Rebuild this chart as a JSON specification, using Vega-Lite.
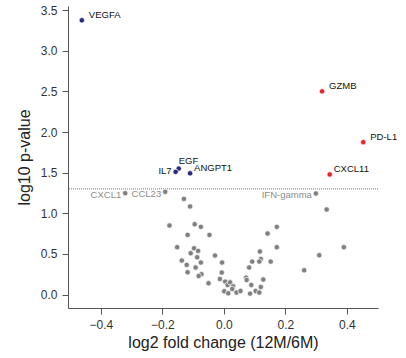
{
  "$schema": "https://vega.github.io/schema/vega-lite/v6.json",
  "autosize": {"type": "none"},
  "width": 310,
  "height": 302,
  "padding": {"left": 68, "top": 6, "right": 28, "bottom": 50},
  "background": "white",
  "config": {
    "view": {"stroke": null},
    "font": "Liberation Sans",
    "axis": {
      "grid": false,
      "domainColor": "#555555",
      "tickColor": "#555555",
      "tickSize": 6,
      "labelPadding": 5,
      "labelColor": "#333333",
      "labelFont": "Liberation Sans",
      "labelFontSize": 12,
      "titleFont": "Liberation Sans",
      "titleFontSize": 16,
      "titleFontWeight": "normal",
      "titleColor": "#222222"
    }
  },
  "datasets": {
    "genes": [
      {"gene": "VEGFA", "lfc": -0.462, "logp": 3.374, "group": "down"},
      {"gene": "GZMB", "lfc": 0.319, "logp": 2.5, "group": "up"},
      {"gene": "PD-L1", "lfc": 0.453, "logp": 1.875, "group": "up"},
      {"gene": "CXCL11", "lfc": 0.344, "logp": 1.478, "group": "up"},
      {"gene": "EGF", "lfc": -0.147, "logp": 1.55, "group": "down"},
      {"gene": "IL7", "lfc": -0.157, "logp": 1.51, "group": "down"},
      {"gene": "ANGPT1", "lfc": -0.110, "logp": 1.492, "group": "down"},
      {"gene": "CXCL1", "lfc": -0.321, "logp": 1.248, "group": "ns"},
      {"gene": "CCL23", "lfc": -0.191, "logp": 1.264, "group": "ns"},
      {"gene": "IFN-gamma", "lfc": 0.299, "logp": 1.244, "group": "ns"},
      {"gene": "", "lfc": -0.130, "logp": 1.177, "group": "ns"},
      {"gene": "", "lfc": -0.110, "logp": 1.084, "group": "ns"},
      {"gene": "", "lfc": 0.334, "logp": 1.047, "group": "ns"},
      {"gene": "", "lfc": -0.177, "logp": 0.850, "group": "ns"},
      {"gene": "", "lfc": -0.095, "logp": 0.866, "group": "ns"},
      {"gene": "", "lfc": -0.075, "logp": 0.833, "group": "ns"},
      {"gene": "", "lfc": -0.118, "logp": 0.734, "group": "ns"},
      {"gene": "", "lfc": -0.047, "logp": 0.734, "group": "ns"},
      {"gene": "", "lfc": 0.142, "logp": 0.751, "group": "ns"},
      {"gene": "", "lfc": 0.172, "logp": 0.833, "group": "ns"},
      {"gene": "", "lfc": -0.152, "logp": 0.583, "group": "ns"},
      {"gene": "", "lfc": -0.097, "logp": 0.570, "group": "ns"},
      {"gene": "", "lfc": -0.084, "logp": 0.537, "group": "ns"},
      {"gene": "", "lfc": -0.108, "logp": 0.509, "group": "ns"},
      {"gene": "", "lfc": -0.087, "logp": 0.459, "group": "ns"},
      {"gene": "", "lfc": -0.029, "logp": 0.480, "group": "ns"},
      {"gene": "", "lfc": -0.137, "logp": 0.419, "group": "ns"},
      {"gene": "", "lfc": -0.075, "logp": 0.394, "group": "ns"},
      {"gene": "", "lfc": -0.006, "logp": 0.394, "group": "ns"},
      {"gene": "", "lfc": -0.121, "logp": 0.365, "group": "ns"},
      {"gene": "", "lfc": -0.092, "logp": 0.333, "group": "ns"},
      {"gene": "", "lfc": -0.118, "logp": 0.275, "group": "ns"},
      {"gene": "", "lfc": -0.073, "logp": 0.250, "group": "ns"},
      {"gene": "", "lfc": -0.082, "logp": 0.229, "group": "ns"},
      {"gene": "", "lfc": -0.050, "logp": 0.139, "group": "ns"},
      {"gene": "", "lfc": -0.007, "logp": 0.271, "group": "ns"},
      {"gene": "", "lfc": -0.013, "logp": 0.192, "group": "ns"},
      {"gene": "", "lfc": 0.004, "logp": 0.160, "group": "ns"},
      {"gene": "", "lfc": 0.012, "logp": 0.118, "group": "ns"},
      {"gene": "", "lfc": 0.001, "logp": 0.041, "group": "ns"},
      {"gene": "", "lfc": 0.014, "logp": 0.016, "group": "ns"},
      {"gene": "", "lfc": 0.172, "logp": 0.583, "group": "ns"},
      {"gene": "", "lfc": 0.390, "logp": 0.583, "group": "ns"},
      {"gene": "", "lfc": 0.310, "logp": 0.484, "group": "ns"},
      {"gene": "", "lfc": 0.261, "logp": 0.299, "group": "ns"},
      {"gene": "", "lfc": 0.117, "logp": 0.530, "group": "ns"},
      {"gene": "", "lfc": 0.120, "logp": 0.438, "group": "ns"},
      {"gene": "", "lfc": 0.115, "logp": 0.406, "group": "ns"},
      {"gene": "", "lfc": 0.092, "logp": 0.406, "group": "ns"},
      {"gene": "", "lfc": 0.152, "logp": 0.406, "group": "ns"},
      {"gene": "", "lfc": 0.082, "logp": 0.333, "group": "ns"},
      {"gene": "", "lfc": 0.072, "logp": 0.209, "group": "ns"},
      {"gene": "", "lfc": 0.074, "logp": 0.180, "group": "ns"},
      {"gene": "", "lfc": 0.128, "logp": 0.185, "group": "ns"},
      {"gene": "", "lfc": 0.020, "logp": 0.151, "group": "ns"},
      {"gene": "", "lfc": 0.030, "logp": 0.102, "group": "ns"},
      {"gene": "", "lfc": 0.089, "logp": 0.118, "group": "ns"},
      {"gene": "", "lfc": 0.120, "logp": 0.094, "group": "ns"},
      {"gene": "", "lfc": 0.041, "logp": 0.025, "group": "ns"},
      {"gene": "", "lfc": 0.054, "logp": 0.044, "group": "ns"},
      {"gene": "", "lfc": 0.085, "logp": 0.012, "group": "ns"},
      {"gene": "", "lfc": 0.103, "logp": 0.044, "group": "ns"},
      {"gene": "", "lfc": 0.115, "logp": 0.025, "group": "ns"},
      {"gene": "", "lfc": 0.027, "logp": 0.069, "group": "ns"}
    ]
  },
  "layer": [
    {
      "data": {"values": [{"threshold": 1.3}]},
      "mark": {"type": "rule", "color": "#777777", "strokeWidth": 1, "strokeDash": [1, 1]},
      "encoding": {
        "y": {"field": "threshold", "type": "quantitative", "scale": {"domain": [-0.165, 3.55], "nice": false, "zero": false}}
      }
    },
    {
      "data": {"name": "genes"},
      "mark": {"type": "circle", "size": 29, "opacity": 1, "stroke": "white", "strokeWidth": 0.7},
      "encoding": {
        "x": {
          "field": "lfc", "type": "quantitative",
          "scale": {"domain": [-0.507, 0.501], "nice": false, "zero": false},
          "axis": {"title": "log2 fold change (12M/6M)", "values": [-0.4, -0.2, 0, 0.2, 0.4], "format": ".1f", "titleX": 155, "titleY": 39.5, "titleBaseline": "alphabetic", "titleAlign": "center"}
        },
        "y": {
          "field": "logp", "type": "quantitative",
          "scale": {"domain": [-0.165, 3.55], "nice": false, "zero": false},
          "axis": {"title": "log10 p-value", "values": [0, 0.5, 1, 1.5, 2, 2.5, 3, 3.5], "format": ".1f", "titleX": -39, "titleY": 151, "titleAngle": -90, "titleBaseline": "alphabetic", "titleAlign": "center"}
        },
        "color": {"field": "group", "type": "nominal", "legend": null, "scale": {"domain": ["ns", "down", "up"], "range": ["#808080", "#252b7a", "#e8222a"]}}
      }
    },
    {
      "data": {"name": "genes"},
      "transform": [{"filter": {"field": "gene", "oneOf": ["VEGFA", "GZMB", "PD-L1"]}}],
      "mark": {"type": "text", "align": "left", "baseline": "middle", "dx": 7, "dy": -5, "fontSize": 9.5, "color": "#111111"},
      "encoding": {"x": {"field": "lfc", "type": "quantitative"}, "y": {"field": "logp", "type": "quantitative"}, "text": {"field": "gene"}}
    },
    {
      "data": {"name": "genes"},
      "transform": [{"filter": {"field": "gene", "oneOf": ["CXCL11", "ANGPT1"]}}],
      "mark": {"type": "text", "align": "left", "baseline": "middle", "dx": 4, "dy": -5, "fontSize": 9.5, "color": "#111111"},
      "encoding": {"x": {"field": "lfc", "type": "quantitative"}, "y": {"field": "logp", "type": "quantitative"}, "text": {"field": "gene"}}
    },
    {
      "data": {"name": "genes"},
      "transform": [{"filter": {"field": "gene", "equal": "EGF"}}],
      "mark": {"type": "text", "align": "left", "baseline": "middle", "dx": 0, "dy": -8, "fontSize": 9.5, "color": "#111111"},
      "encoding": {"x": {"field": "lfc", "type": "quantitative"}, "y": {"field": "logp", "type": "quantitative"}, "text": {"field": "gene"}}
    },
    {
      "data": {"name": "genes"},
      "transform": [{"filter": {"field": "gene", "equal": "IL7"}}],
      "mark": {"type": "text", "align": "right", "baseline": "middle", "dx": -4, "dy": -1, "fontSize": 9.5, "color": "#111111"},
      "encoding": {"x": {"field": "lfc", "type": "quantitative"}, "y": {"field": "logp", "type": "quantitative"}, "text": {"field": "gene"}}
    },
    {
      "data": {"name": "genes"},
      "transform": [{"filter": {"field": "gene", "oneOf": ["CXCL1", "CCL23", "IFN-gamma"]}}],
      "mark": {"type": "text", "align": "right", "baseline": "middle", "dx": -4, "dy": 2, "fontSize": 9.5, "color": "#8c8c8c"},
      "encoding": {"x": {"field": "lfc", "type": "quantitative"}, "y": {"field": "logp", "type": "quantitative"}, "text": {"field": "gene"}}
    }
  ]
}
